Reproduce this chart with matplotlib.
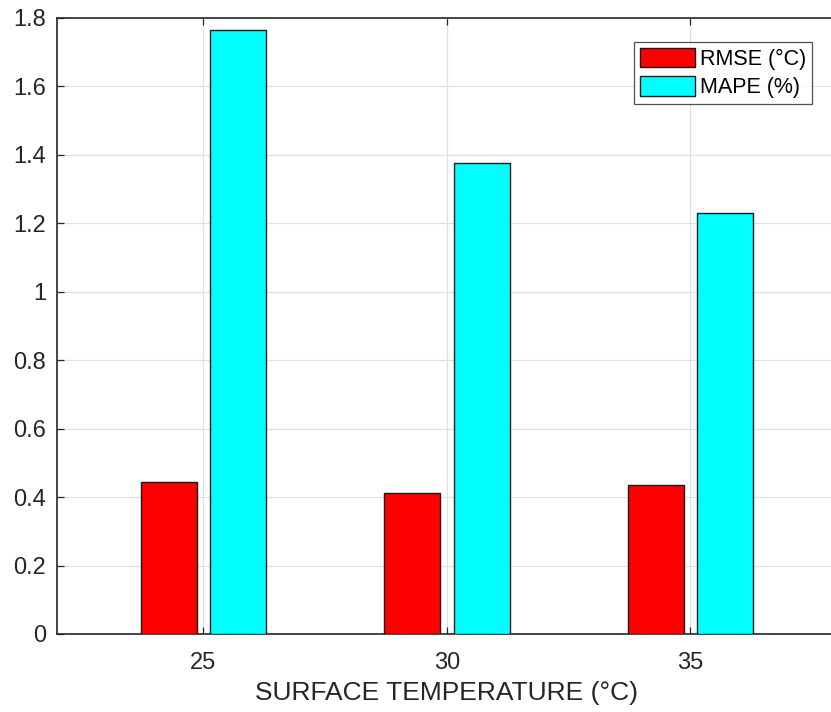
import matplotlib
matplotlib.use("Agg")
import matplotlib.pyplot as plt
import numpy as np

plt.rcParams['font.family'] = ['Liberation Sans', 'DejaVu Sans']

categories = [25, 30, 35]
rmse = [0.445, 0.413, 0.435]
mape = [1.765, 1.376, 1.230]
series_labels = ['RMSE (°C)', 'MAPE (%)']
yticks = [0, 0.2, 0.4, 0.6, 0.8, 1.0, 1.2, 1.4, 1.6, 1.8]
ytick_labels = ['0', '0.2', '0.4', '0.6', '0.8', '1', '1.2', '1.4', '1.6', '1.8']

W, H = 831, 712
fig = plt.figure(figsize=(W/100, H/100), dpi=100)
left, right, top, bottom = 57.3, 836.5, 18, 634
ax = fig.add_axes([left/W, 1-bottom/H, (right-left)/W, (bottom-top)/H])

x = np.array(categories, dtype=float)
off = 0.715
width = 1.15
ax.bar(x - off, rmse, width, color='#ff0000', edgecolor='#1a1a1a', linewidth=1.0, label=series_labels[0], zorder=3)
ax.bar(x + off, mape, width, color='#00ffff', edgecolor='#1a1a1a', linewidth=1.0, label=series_labels[1], zorder=3)

ax.set_xlim(22, 38)
ax.set_ylim(0, 1.8)
ax.set_xticks(categories)
ax.set_xticklabels([str(c) for c in categories])
ax.set_yticks(yticks)
ax.set_yticklabels(ytick_labels)
ax.grid(True, color='#e0e0e0', linewidth=0.9, zorder=0)
ax.set_axisbelow(True)

axis_col = '#262626'
for s in ['left', 'bottom', 'top']:
    ax.spines[s].set_color(axis_col)
    ax.spines[s].set_linewidth(1.2)
ax.spines['right'].set_visible(False)
ax.tick_params(axis='both', direction='in', length=5, width=0.9, colors=axis_col,
               labelsize=17, top=True, right=False, labelcolor='#262626')
ax.tick_params(axis='x', pad=13)
ax.tick_params(axis='y', pad=8)

ax.set_xlabel('SURFACE TEMPERATURE (°C)', fontsize=19, color='#262626', labelpad=5)

leg = ax.legend(loc='upper left', bbox_to_anchor=((634-left)/(right-left), 1-(42-top)/(bottom-top)),
                fontsize=15.5, frameon=True, fancybox=False, borderpad=0.27,
                handlelength=2.55, handleheight=1.0, handletextpad=0.25, labelspacing=0.3,
                borderaxespad=0)
leg.get_frame().set_edgecolor('#262626')
leg.get_frame().set_linewidth(0.9)

fig.savefig('out.png', dpi=100)
